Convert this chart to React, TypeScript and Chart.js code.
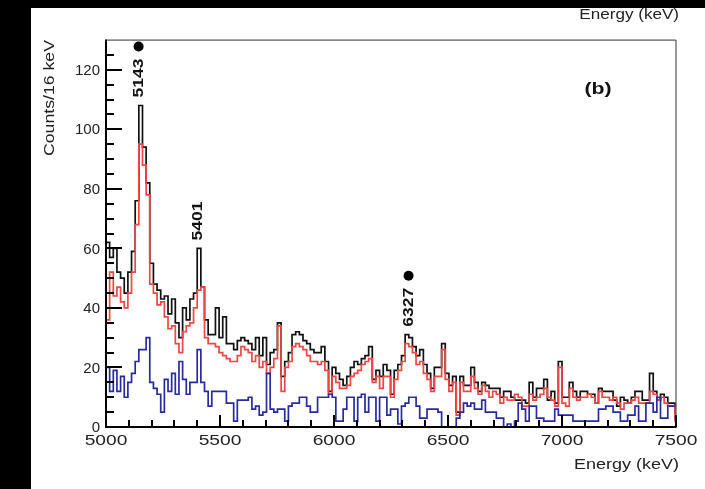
import React, { useEffect, useRef } from "react";
import { Chart, registerables } from "chart.js";

Chart.register(...registerables);

// ---------------- data ----------------
const BIN_START = 5000; // keV, left edge of first bin
const BIN_WIDTH = 16; // keV per bin
const X_MIN = 5000;
const X_MAX = 7500;
const Y_MIN = 0;
const Y_MAX = 130;

// black histogram (total)
const totalCounts = [
  62, 57, 60, 52, 50, 45, 52, 59, 76, 108,
  94, 82, 55, 48, 46, 43, 44, 38, 43, 35,
  30, 40, 36, 43, 45, 60, 47, 36, 31, 31,
  40, 30, 37, 28, 28, 26, 29, 30, 29, 28,
  26, 30, 24, 30, 21, 25, 26, 35, 17, 22,
  25, 31, 32, 31, 29, 28, 26, 25, 25, 27,
  22, 12, 20, 18, 16, 14, 17, 20, 22, 21,
  23, 24, 27, 16, 19, 17, 21, 19, 11, 19,
  21, 24, 31, 30, 27, 24, 26, 21, 18, 13,
  20, 20, 28, 18, 14, 17, 5, 17, 14, 14,
  20, 15, 12, 15, 14, 13, 13, 13, 10, 12,
  12, 10, 9, 9, 9, 8, 15, 10, 13, 13,
  16, 9, 12, 8, 22, 10, 10, 15, 12, 10,
  12, 12, 11, 11, 8, 13, 12, 12, 12, 9,
  7, 10, 9, 8, 10, 12, 12, 9, 9, 18,
  12, 9, 11, 10, 8, 8, 3,
];

// red histogram
const redCounts = [
  36, 52, 44, 47, 42, 40, 45, 52, 68, 95,
  88, 78, 48, 45, 41, 42, 37, 33, 34, 28,
  25, 32, 34, 35, 40, 46, 47, 30, 28, 28,
  27, 25, 24, 23, 22, 22, 24, 27, 26, 25,
  22, 24, 20, 22, 18, 20, 23, 34, 12, 20,
  22, 27, 28, 27, 26, 24, 22, 22, 21, 22,
  19, 11, 17, 15, 13, 13, 14, 17, 18, 19,
  21, 22, 23, 15, 17, 13, 17, 17, 10, 16,
  19, 22, 28, 27, 25, 21, 22, 18, 16, 12,
  17, 17, 26, 16, 12, 15, 4, 15, 12, 12,
  17, 13, 11, 14, 12, 10, 12, 11, 8, 10,
  9, 9, 11, 10, 7, 7, 11, 9, 10, 11,
  13, 10, 9, 7, 20, 8, 7, 13, 10, 9,
  10, 10, 11, 10, 8, 12, 10, 10, 9, 10,
  8, 6, 8, 8, 9, 10, 8, 8, 8, 12,
  11, 9, 10, 8, 7, 7, 2,
];

// blue histogram
const blueCounts = [
  20, 12, 19, 12, 17, 10, 15, 18, 22, 26,
  26, 30, 15, 13, 11, 5, 16, 12, 18, 11,
  22, 16, 11, 15, 15, 26, 15, 12, 7, 12,
  12, 12, 12, 8, 8, 2, 9, 9, 9, 10,
  6, 7, 4, 5, 18, 6, 5, 6, 6, 2,
  7, 8, 8, 10, 10, 7, 5, 5, 10, 10,
  10, 11, 10, 2, 2, 6, 10, 10, 2, 10,
  11, 5, 10, 10, 2, 10, 10, 4, 6, 6,
  1, 7, 8, 10, 10, 7, 3, 3, 6, 6,
  6, 5, 0, 0, 0, 0, 3, 5, 8, 7,
  8, 6, 6, 9, 5, 5, 5, 3, 3, 0,
  1, 0, 2, 8, 6, 2, 7, 7, 3, 3,
  2, 2, 2, 6, 4, 4, 4, 4, 2, 2,
  2, 2, 2, 2, 2, 6, 6, 7, 7, 5,
  5, 2, 2, 4, 4, 7, 2, 2, 8, 8,
  5, 10, 3, 3, 7, 7, 7,
];

const xTickValues = [5000, 5500, 6000, 6500, 7000, 7500];
const yTickValues = [0, 20, 40, 60, 80, 100, 120];
const peakEnergies = [5143, 5401, 6327];
const peakLabels = ["5143", "5401", "6327"];
const peakHasDot = [true, false, true];
const panelLabel = "(b)";
const xTitle = "Energy (keV)";
const yTitle = "Counts/16 keV";

// ---------------- helpers ----------------
const FONT = "'Liberation Sans', Arial, Helvetica, sans-serif";
const TEXT_COLOR = "#222";

function toSteps(values: number[]) {
  const pts: { x: number; y: number }[] = [];
  values.forEach((v, i) => {
    const lo = BIN_START + i * BIN_WIDTH;
    const hi = Math.min(lo + BIN_WIDTH, X_MAX);
    pts.push({ x: lo, y: v }, { x: hi, y: v });
  });
  return pts;
}

function drawText(
  ctx: CanvasRenderingContext2D,
  text: string,
  x: number,
  y: number,
  rot: number,
  sx: number,
  align: CanvasTextAlign,
  baseline: CanvasTextBaseline,
  font: string,
  color = "#111"
) {
  ctx.save();
  ctx.translate(x, y);
  ctx.rotate(rot);
  ctx.scale(sx, 1);
  ctx.font = font;
  ctx.fillStyle = color;
  ctx.textAlign = align;
  ctx.textBaseline = baseline;
  ctx.fillText(text, 0, 0);
  ctx.restore();
}

const framePlugin = {
  id: "rootFrame",
  afterDraw(chart: any) {
    const ctx: CanvasRenderingContext2D = chart.ctx;
    const { left, right, top, bottom } = chart.chartArea;
    const xs = chart.scales.x;
    const ys = chart.scales.y;
    ctx.save();
    // thin top/right frame
    ctx.fillStyle = "#555";
    ctx.fillRect(left, top - 0.5, right - left, 1.2);
    ctx.fillRect(right - 0.6, top, 1.2, bottom - top);
    // axes
    ctx.fillStyle = "#000";
    ctx.fillRect(left - 1, top - 0.5, 2, bottom - top + 1.5);
    ctx.fillRect(left - 1, bottom - 1, right - left + 1.5, 2);

    // tick marks (inside the frame)
    ctx.strokeStyle = "#000";
    ctx.lineWidth = 2;
    ctx.beginPath();
    for (let i = 0; i * 5 < Y_MAX; i++) {
      const v = Y_MIN + i * 5;
      const py = Math.round(ys.getPixelForValue(v));
      const len = v % 20 === 0 ? 16 : 8;
      ctx.moveTo(left, py);
      ctx.lineTo(left + len, py);
    }
    for (let i = 0; X_MIN + i * 100 <= X_MAX; i++) {
      const v = X_MIN + i * 100;
      const px = Math.round(xs.getPixelForValue(v));
      const len = v % 500 === 0 ? 12 : 7;
      ctx.moveTo(px, bottom);
      ctx.lineTo(px, bottom - len);
    }
    ctx.stroke();

    // tick labels
    yTickValues.forEach((v) => {
      drawText(ctx, String(v), left - 6, ys.getPixelForValue(v) + 1, 0, 1, "right", "middle", `15px ${FONT}`, TEXT_COLOR);
    });
    xTickValues.forEach((v) => {
      drawText(ctx, String(v), xs.getPixelForValue(v), bottom + 14, 0, 1.28, "center", "middle", `15px ${FONT}`, TEXT_COLOR);
    });

    // axis titles
    drawText(ctx, xTitle, right + 3, bottom + 38, 0, 1.2, "right", "middle", `15px ${FONT}`, TEXT_COLOR);
    drawText(ctx, yTitle, 50, top, -Math.PI / 2, 1.22, "right", "middle", `14.5px ${FONT}`, TEXT_COLOR);

    // peak annotations
    peakEnergies.forEach((e, k) => {
      const idx = Math.floor((e - BIN_START) / BIN_WIDTH);
      let m = 0;
      for (let j = idx - 1; j <= idx + 1; j++) {
        if (j >= 0 && j < totalCounts.length) m = Math.max(m, totalCounts[j]);
      }
      const px = xs.getPixelForValue(e) + 1;
      const base = ys.getPixelForValue(m) - 8;
      const font = `bold 14px ${FONT}`;
      const sx = 1.25;
      drawText(ctx, peakLabels[k], px, base, -Math.PI / 2, sx, "left", "middle", font);
      if (peakHasDot[k]) {
        ctx.font = font;
        const w = ctx.measureText(peakLabels[k]).width * sx;
        ctx.fillStyle = "#000";
        ctx.beginPath();
        ctx.arc(px - 1, base - w - 12, 5, 0, Math.PI * 2);
        ctx.fill();
      }
    });

    // panel label
    drawText(ctx, panelLabel, 598, 89, 0, 1.25, "center", "middle", `bold 17px ${FONT}`);
    // stray top title
    drawText(ctx, xTitle, 679, 15, 0, 1.22, "right", "middle", `14px ${FONT}`, TEXT_COLOR);
    ctx.restore();
  },
};

// ---------------- component ----------------
export default function App() {
  const ref = useRef<HTMLCanvasElement | null>(null);

  useEffect(() => {
    if (!ref.current) return;
    const line = (label: string, values: number[], color: string) => ({
      label,
      data: toSteps(values),
      borderColor: color,
      backgroundColor: color,
      borderWidth: 1.7,
      pointRadius: 0,
      tension: 0,
      fill: false,
    });
    const chart = new Chart(ref.current, {
      type: "line",
      data: {
        datasets: [
          line("blue", blueCounts, "#2a2aa0"),
          line("red", redCounts, "#f04646"),
          line("total", totalCounts, "#111111"),
        ],
      },
      options: {
        animation: false,
        responsive: false,
        maintainAspectRatio: false,
        layout: { padding: { left: 34, top: 40, right: 29, bottom: 0 } },
        plugins: {
          legend: { display: false },
          tooltip: { enabled: false },
        },
        scales: {
          x: {
            type: "linear",
            min: X_MIN,
            max: X_MAX,
            afterBuildTicks: (s: any) => {
              s.ticks = xTickValues.map((v) => ({ value: v }));
            },
            afterFit: (s: any) => {
              s.height = 62;
            },
            grid: { display: false, drawTicks: false },
            border: { display: false },
            ticks: { display: false },
          },
          y: {
            type: "linear",
            min: Y_MIN,
            max: Y_MAX,
            afterBuildTicks: (s: any) => {
              s.ticks = yTickValues.map((v) => ({ value: v }));
            },
            afterFit: (s: any) => {
              s.width = 72;
            },
            grid: { display: false, drawTicks: false },
            border: { display: false },
            ticks: { display: false },
          },
        },
      },
      plugins: [framePlugin],
    } as any);
    return () => chart.destroy();
  }, []);

  return (
    <div
      style={{
        position: "absolute",
        left: 0,
        top: 0,
        width: 705,
        height: 489,
        background: "#fff",
        overflow: "hidden",
      }}
    >
      <div style={{ position: "absolute", left: 0, top: 0, width: 31, height: 489, background: "#000" }} />
      <div style={{ position: "absolute", left: 0, top: 0, width: 705, height: 8, background: "#000" }} />
      <canvas
        ref={ref}
        width={705}
        height={489}
        style={{ position: "absolute", left: 0, top: 0, display: "block" }}
      />
    </div>
  );
}
